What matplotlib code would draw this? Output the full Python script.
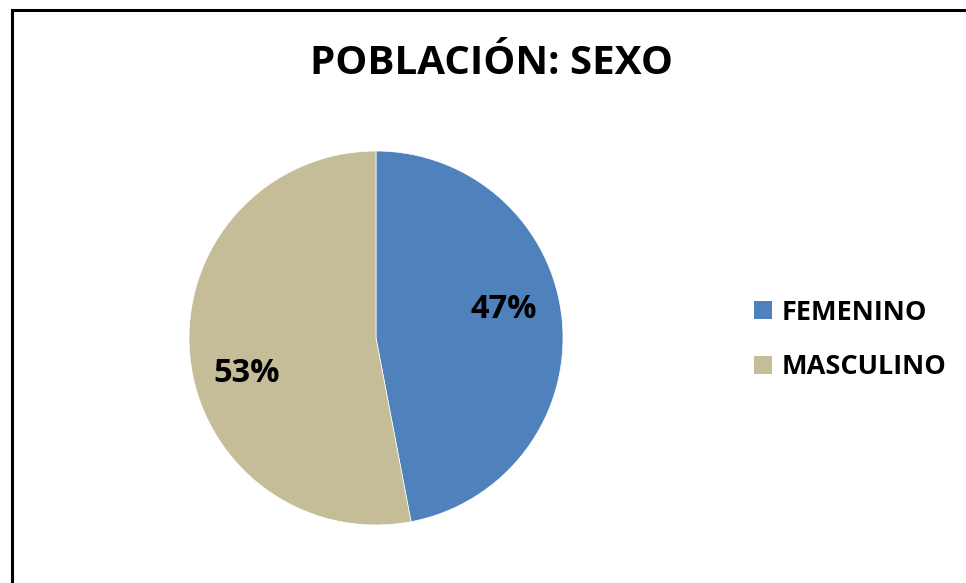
import matplotlib.pyplot as plt
from matplotlib.patches import Rectangle, Patch

# datos
categorias = ['FEMENINO', 'MASCULINO']
valores = [47, 53]
colores = ['#4F81BD', '#C4BD97']

plt.rcParams['font.family'] = ['Open Sans', 'DejaVu Sans']
plt.rcParams['font.weight'] = 'bold'

W, H = 966, 583
fig = plt.figure(figsize=(W / 100, H / 100), dpi=100)

# marco del grafico
fig.patches.append(Rectangle((12 / W, -0.1), 1.2, 1 - 10 / H + 0.1, transform=fig.transFigure,
                             fill=False, edgecolor='black', linewidth=2.2))

fig.text(492 / W, 1 - 63 / H, 'POBLACIÓN: SEXO', ha='center', va='center',
         fontsize=29, fontweight='bold')

# pastel
cx, cy, r = 376, 338, 187
ax = fig.add_axes([(cx - r) / W, (H - cy - r) / H, 2 * r / W, 2 * r / H])
wedges, textos, pcts = ax.pie(valores, colors=colores, startangle=90, counterclock=False,
                              autopct='%1.0f%%', pctdistance=0.72,
                              textprops=dict(fontsize=23.5, fontweight='bold', color='black'),
                              labels=None, wedgeprops=dict(linewidth=0.5, edgecolor='white'))
# posicion de etiquetas como en excel
pcts[0].set_position((0.685, 0.15))
pcts[1].set_position((-0.69, -0.19))
ax.set_xlim(-1, 1)
ax.set_ylim(-1, 1)
ax.set_aspect('equal')
ax.axis('off')

handles = [Patch(facecolor=c, edgecolor='none') for c in colores]
fig.legend(handles, categorias, loc='center left', bbox_to_anchor=(754 / W, 1 - 340 / H),
           frameon=False, borderpad=0, borderaxespad=0, handlelength=0.66, handleheight=0.66,
           handletextpad=0.35, labelspacing=1.05, prop=dict(weight='bold', size=19.5))

fig.savefig('out.png', dpi=100)
